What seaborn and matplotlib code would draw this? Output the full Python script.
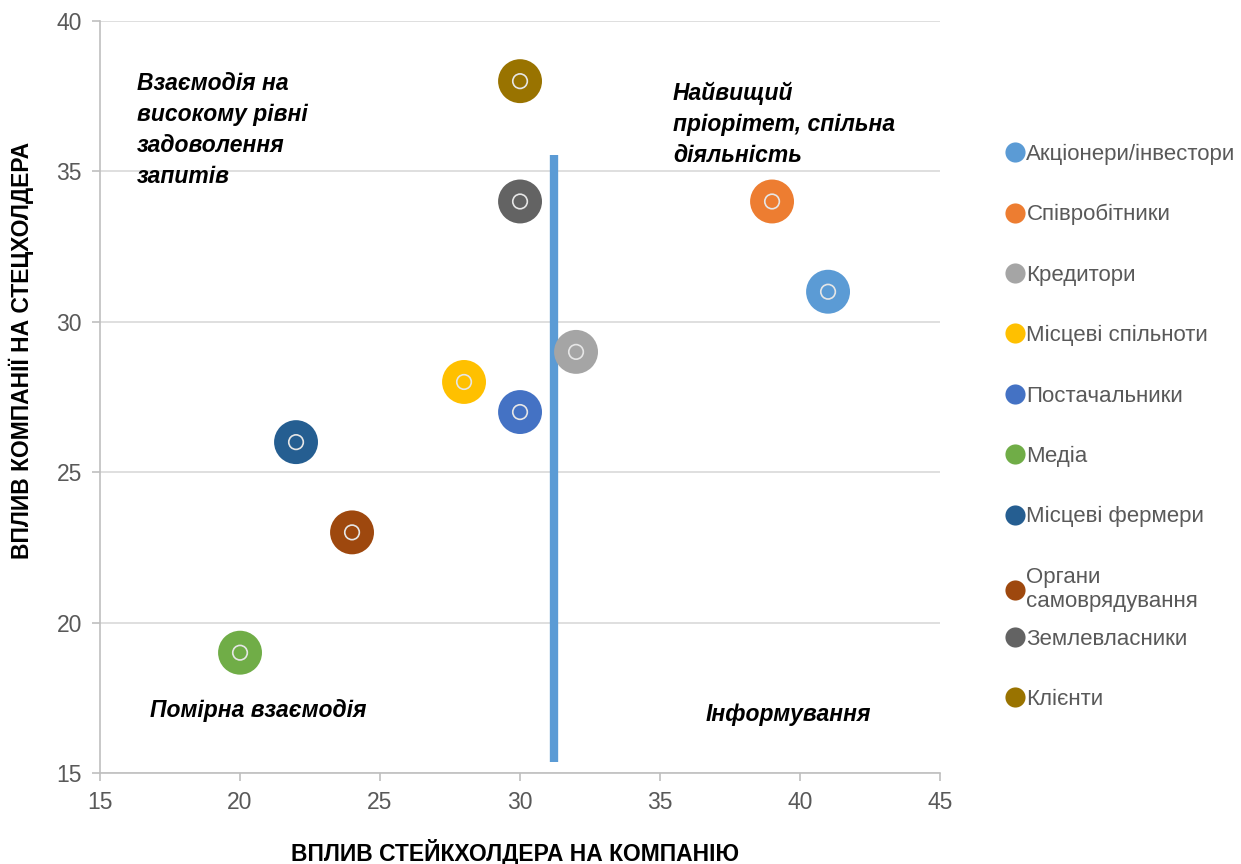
import matplotlib
matplotlib.use("Agg")
import matplotlib.pyplot as plt
import seaborn as sns
import pandas as pd

# ---- data ----
stakeholders = ["Акціонери/інвестори", "Співробітники", "Кредитори", "Місцеві спільноти",
                "Постачальники", "Медіа", "Місцеві фермери", "Органи\nсамоврядування",
                "Землевласники", "Клієнти"]
influence_on_company = [41, 39, 32, 28, 30, 20, 22, 24, 30, 30]   # x
company_influence = [31, 34, 29, 28, 27, 19, 26, 23, 34, 38]      # y
colors = ["#5B9BD5", "#ED7D31", "#A5A5A5", "#FFC000", "#4472C4",
          "#70AD47", "#255E91", "#9E480E", "#636363", "#997300"]
divider_x = 31.2
divider_y = (15.35, 35.55)
x_ticks = [15, 20, 25, 30, 35, 40, 45]
y_ticks = [15, 20, 25, 30, 35, 40]

df = pd.DataFrame({"x": influence_on_company, "y": company_influence, "name": stakeholders})

sns.set_theme(style="white")
plt.rcParams["font.family"] = ["Liberation Sans", "DejaVu Sans"]

fig = plt.figure(figsize=(12.41, 8.64), dpi=100)
ax = fig.add_axes([0.0806, 0.1053, 0.6769, 0.8704])

ax.grid(axis="y", color="#d9d9d9", linewidth=1.2)
ax.set_axisbelow(True)

ax.vlines(divider_x, divider_y[0], divider_y[1], color="#5B9BD5", linewidth=6, zorder=1)

sns.scatterplot(data=df, x="x", y="y", hue="name", hue_order=stakeholders,
                palette=colors, s=1000, linewidth=0, ax=ax, zorder=3, legend=True)
sns.scatterplot(data=df, x="x", y="y", s=110, facecolor="none", edgecolor="#e6e6e6",
                linewidth=1.2, ax=ax, zorder=4, legend=False)

ax.set_xlim(15, 45)
ax.set_ylim(15, 40)
ax.set_xticks(x_ticks)
ax.set_yticks(y_ticks)
ax.tick_params(axis="both", labelsize=16.5, labelcolor="#595959", color="#bfbfbf",
               length=6, width=1.2, direction="out", bottom=True, left=True, pad=7)
for side in ["top", "right"]:
    ax.spines[side].set_visible(False)
for side in ["left", "bottom"]:
    ax.spines[side].set_color("#bfbfbf")
    ax.spines[side].set_linewidth(1.2)

lab_font = ["Liberation Sans Narrow", "Liberation Sans", "DejaVu Sans"]
ax.set_xlabel("ВПЛИВ СТЕЙКХОЛДЕРА НА КОМПАНІЮ", fontsize=16.5, fontweight="bold",
              family=lab_font, color="black")
ax.xaxis.set_label_coords(0.494, -0.088)
ax.set_ylabel("ВПЛИВ КОМПАНІЇ НА СТЕЦХОЛДЕРА", fontsize=16.5, fontweight="bold",
              family=lab_font, color="black")
ax.yaxis.set_label_coords(-0.079, 0.5625)

tk = dict(fontsize=16.5, fontweight="bold", fontstyle="italic", color="black", linespacing=1.45)
ax.text(16.32, 38.3, "Взаємодія на\nвисокому рівні\nзадоволення\nзапитів", ha="left", va="top", **tk)
ax.text(35.46, 38.0, "Найвищий\nпріорітет, спільна\nдіяльність", ha="left", va="top", **tk)
ax.text(16.79, 17.09, "Помірна взаємодія", ha="left", va="center", **tk)
ax.text(36.64, 16.93, "Інформування", ha="left", va="center", **tk)

handles, labels = ax.get_legend_handles_labels()
for h in handles:
    h.set_markersize(14.5)
leg_kw = dict(loc="upper left", bbox_transform=fig.transFigure, frameon=False, fontsize=16,
              labelcolor="#595959", handletextpad=0.0, handlelength=1.0,
              labelspacing=1.77, borderaxespad=0)
leg1 = ax.legend(handles[:8], labels[:8], bbox_to_anchor=(0.802, 0.844), **leg_kw)
ax.add_artist(leg1)
leg2 = ax.legend(handles[8:], labels[8:], bbox_to_anchor=(0.802, 0.2824), **leg_kw)

fig.savefig("out.png", dpi=100)
